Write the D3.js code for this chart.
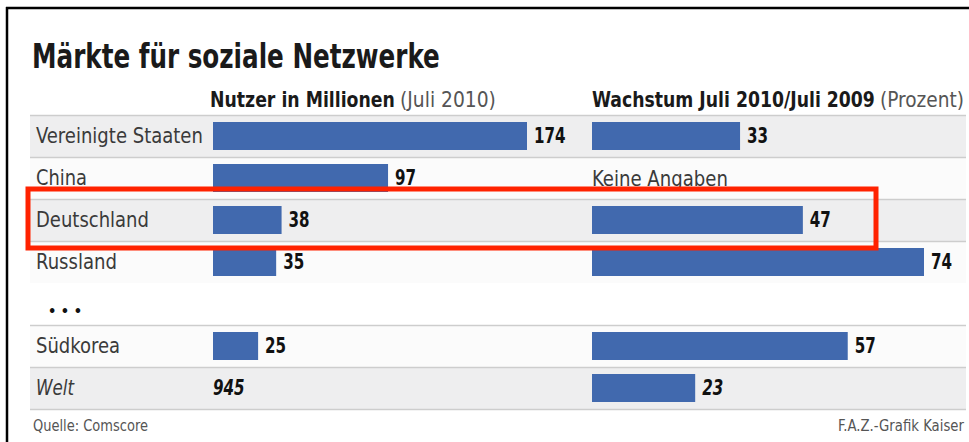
<!DOCTYPE html>
<html><head><meta charset="utf-8">
<script src="https://cdn.jsdelivr.net/npm/d3@7/dist/d3.min.js"></script>
<style>
html,body{margin:0;padding:0;background:#fff;}
svg{display:block;}
text{font-family:"Liberation Sans Narrow","DejaVu Sans Condensed","Roboto Condensed","Open Sans",sans-serif;}
</style></head>
<body>
<script>
const title = "Märkte für soziale Netzwerke";
const headerUsers = ["Nutzer in Millionen", "(Juli 2010)"];
const headerGrowth = ["Wachstum Juli 2010/Juli 2009", "(Prozent)"];
const categories = ["Vereinigte Staaten", "China", "Deutschland", "Russland", "Südkorea", "Welt"];
const users = [174, 97, 38, 35, 25, 945];
const growth = [33, null, 47, 74, 57, 23];
const gapAfter = "Russland";
const totalRow = "Welt";
const highlighted = "Deutschland";
const noDataText = "Keine Angaben";
const source = "Quelle: Comscore";
const credit = "F.A.Z.-Grafik Kaiser";

const W = 969, H = 442;
const svg = d3.select("body").append("svg").attr("width", W).attr("height", H);

// place a text and compress it horizontally (condensed look) to a target width or factor
function putText(parent, x, y, str, o) {
  const g = parent.append("g");
  const t = g.append("text").attr("x", 0).attr("y", 0).text(str)
    .attr("font-size", o.size).attr("fill", o.fill || "#222");
  if (o.bold) t.attr("font-weight", "bold");
  if (o.italic) t.attr("font-style", "italic");
  const w = t.node().getComputedTextLength();
  const sx = o.width ? o.width / w : (o.factor || 0.82);
  const x0 = o.anchor === "end" ? x - w * sx : x;
  g.attr("transform", `translate(${x0},${y}) scale(${sx},1)`);
  return g;
}

const slots = [];
categories.forEach(c => { slots.push(c); if (c === gapAfter) slots.push("…"); });
const rows = categories.map((c, i) => ({ name: c, users: users[i], growth: growth[i] }));

const y = d3.scaleBand().domain(slots).range([115, 409]).paddingInner(0);
const xU = d3.scaleLinear().domain([0, 174]).range([213, 527]);
const xG = d3.scaleLinear().domain([0, 74]).range([592, 924]);
const barInset = 7;
const blue = "#4169ae";
const mid = d => y(d) + y.bandwidth() / 2;

// row backgrounds
const shaded = new Set(["Vereinigte Staaten", "Deutschland", "Welt"]);
svg.selectAll("rect.bg").data(rows).join("rect")
  .attr("x", 30).attr("width", 936)
  .attr("y", d => y(d.name)).attr("height", y.bandwidth())
  .attr("fill", d => shaded.has(d.name) ? "#eeeeef" : "#fbfbfb");

// separator lines
const lineYs = rows.map(d => y(d.name));
lineYs.push(y(totalRow) + y.bandwidth());
svg.selectAll("line.sep").data(lineYs).join("line")
  .attr("x1", 30).attr("x2", 966).attr("y1", d => d + 0.5).attr("y2", d => d + 0.5)
  .attr("stroke", "#cdcdcd").attr("stroke-width", 1.5);

// title
putText(svg, 32, 68, title, { size: 33, bold: true, fill: "#1a1a1a", width: 408 });

// headers
putText(svg, 210, 107, headerUsers[0], { size: 21, bold: true, fill: "#1a1a1a", width: 185 });
putText(svg, 400, 107, headerUsers[1], { size: 21, fill: "#555", width: 96 });
putText(svg, 592, 107, headerGrowth[0], { size: 21, bold: true, fill: "#1a1a1a", width: 283 });
putText(svg, 880, 107, headerGrowth[1], { size: 21, fill: "#555", width: 84 });

// category labels
const labelW = { "Vereinigte Staaten": 167, "China": 51, "Deutschland": 113, "Russland": 81, "Südkorea": 84, "Welt": 38 };
rows.forEach(d => {
  putText(svg, 36, mid(d.name) + 7, d.name,
    { size: 21, fill: "#3a3a3a", italic: d.name === totalRow, width: labelW[d.name] });
});

// user bars
const barRows = rows.filter(d => d.name !== totalRow);
svg.selectAll("rect.u").data(barRows).join("rect")
  .attr("x", xU(0)).attr("y", d => y(d.name) + barInset)
  .attr("width", d => xU(d.users) - xU(0)).attr("height", y.bandwidth() - 2 * barInset)
  .attr("fill", blue);
rows.forEach(d => {
  const isT = d.name === totalRow;
  putText(svg, isT ? xU(0) : xU(d.users) + 7, mid(d.name) + 7, String(d.users),
    { size: 21, bold: true, italic: isT, fill: "#111", factor: 0.8 });
});

// growth bars
const gRows = rows.filter(d => d.growth != null);
svg.selectAll("rect.g").data(gRows).join("rect")
  .attr("x", xG(0)).attr("y", d => y(d.name) + barInset)
  .attr("width", d => xG(d.growth) - xG(0)).attr("height", y.bandwidth() - 2 * barInset)
  .attr("fill", blue);
gRows.forEach(d => {
  putText(svg, xG(d.growth) + 7, mid(d.name) + 7, String(d.growth),
    { size: 21, bold: true, italic: d.name === totalRow, fill: "#111", factor: 0.8 });
});
rows.filter(d => d.growth == null).forEach(d => {
  putText(svg, xG(0), mid(d.name) + 8, noDataText, { size: 21, fill: "#3a3a3a", width: 136 });
});

// ellipsis in gap
putText(svg, 48, mid("…") + 12, "• • •", { size: 14, bold: true, fill: "#111", width: 34 });

// footer
putText(svg, 33, 431, source, { size: 16, fill: "#555", width: 115 });
putText(svg, 964, 431, credit, { size: 16, fill: "#555", width: 126, anchor: "end" });

// highlight box
svg.append("rect")
  .attr("x", 28).attr("y", y(highlighted) - 10)
  .attr("width", 848).attr("height", y.bandwidth() + 17)
  .attr("fill", "none").attr("stroke", "#ff2200").attr("stroke-width", 5);

// frame
svg.append("line").attr("x1", 6).attr("x2", W).attr("y1", 8).attr("y2", 8)
  .attr("stroke", "#000").attr("stroke-width", 2.5);
svg.append("line").attr("x1", 7).attr("x2", 7).attr("y1", 7).attr("y2", H)
  .attr("stroke", "#000").attr("stroke-width", 2.5);
</script>
</body></html>
